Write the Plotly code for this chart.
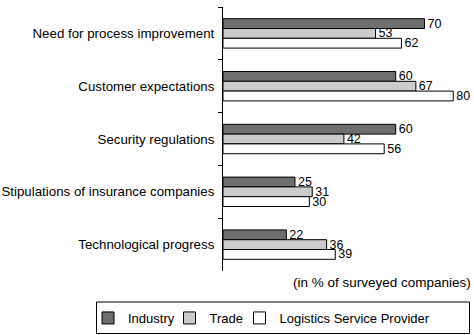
import plotly.graph_objects as go

categories = ["Need for process improvement", "Customer expectations", "Security regulations",
              "Stipulations of insurance companies", "Technological progress"]
series_names = ["Industry", "Trade", "Logistics Service Provider"]
industry = [70, 60, 60, 25, 22]
trade = [53, 67, 42, 31, 36]
lsp = [62, 80, 56, 30, 39]
colors = ["#6e6e6e", "#cbcbcb", "#ffffff"]
legend_ids = ["legend", "legend2", "legend3"]

FONT = "Liberation Sans, Arial, Helvetica, sans-serif"

# plot area geometry (pixels)
W, H = 474, 335
ML, MR, MT, MB = 223, 0, 7, 64
PW, PH = W - ML - MR, H - MT - MB


def px_x(x):
    return (x - ML) / PW


def px_y(y):
    return (H - MB - y) / PH


fig = go.Figure()
for name, vals, col, lid in zip(series_names, [industry, trade, lsp], colors, legend_ids):
    fig.add_trace(go.Bar(
        y=categories, x=vals, name=name, orientation="h",
        marker=dict(color=col, line=dict(color="#000000", width=1)),
        text=[str(v) for v in vals], textposition="outside",
        textfont=dict(size=12.5, color="#000000", family=FONT),
        constraintext="none", cliponaxis=False, legend=lid,
    ))

legend_left_px = [88, 169.5, 239.5]
leg_common = dict(xref="paper", yref="paper", xanchor="left", yanchor="middle",
                  y=px_y(318), borderwidth=0, bgcolor="rgba(0,0,0,0)",
                  font=dict(size=13, color="#000000", family=FONT))

fig.update_layout(
    width=W, height=H,
    margin=dict(l=ML, r=MR, t=MT, b=MB, autoexpand=False),
    barmode="group", bargap=0.443, bargroupgap=0,
    plot_bgcolor="#ffffff", paper_bgcolor="#ffffff",
    font=dict(family=FONT, size=13, color="#000000"),
    xaxis=dict(visible=False, range=[0, 87.2]),
    yaxis=dict(autorange="reversed", showline=True, linecolor="#000000", linewidth=1,
               ticks="outside", ticklen=4, tickcolor="#000000", tickson="boundaries",
               ticklabelstandoff=5, showgrid=False, zeroline=False,
               tickfont=dict(size=13.3, color="#000000", family=FONT)),
    legend=dict(x=px_x(legend_left_px[0]), **leg_common),
    legend2=dict(x=px_x(legend_left_px[1]), **leg_common),
    legend3=dict(x=px_x(legend_left_px[2]), **leg_common),
    showlegend=True,
    shapes=[dict(type="rect", xref="paper", yref="paper",
                 x0=px_x(96.5), x1=px_x(469.5), y0=px_y(333.5), y1=px_y(302),
                 line=dict(color="#000000", width=1), fillcolor="rgba(0,0,0,0)")],
    annotations=[dict(text="(in % of surveyed companies)", xref="paper", yref="paper",
                      x=1, y=0, xanchor="right", yanchor="middle", yshift=-11, xshift=-1,
                      showarrow=False, font=dict(size=13.5, color="#000000", family=FONT))],
)

fig.write_html("out.html")
